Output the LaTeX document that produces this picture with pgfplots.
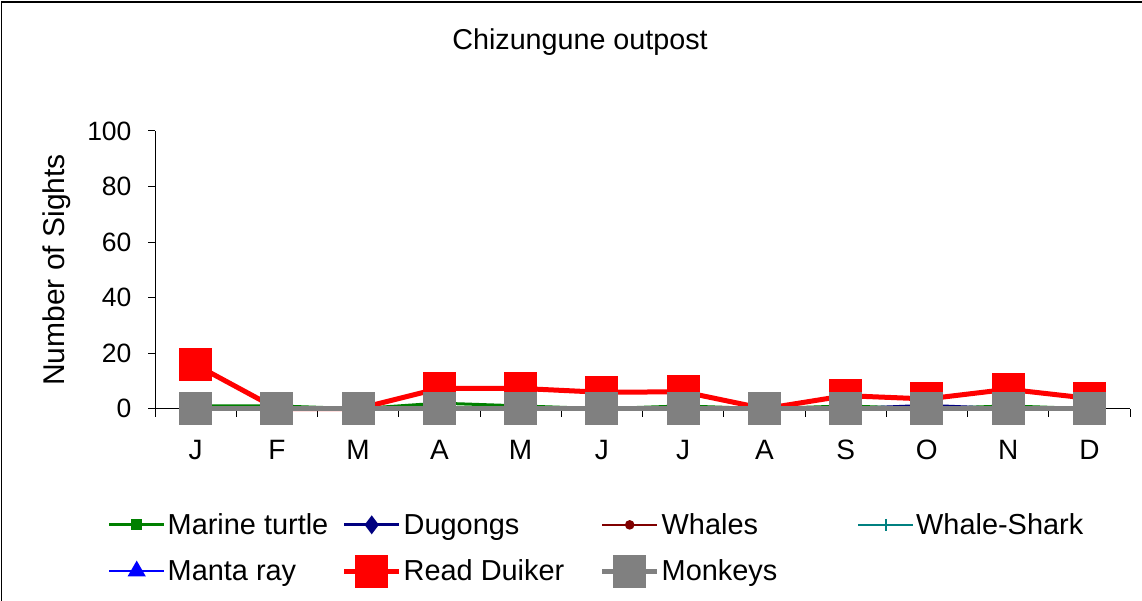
\documentclass[border=0pt]{standalone}
\usepackage{pgfplots}
\pgfplotsset{compat=1.18}
\usepackage{fontspec}
\setmainfont{Liberation Sans}
\definecolor{mturtle}{RGB}{0,128,0}
\definecolor{dugong}{RGB}{0,0,128}
\definecolor{whale}{RGB}{128,0,0}
\definecolor{wshark}{RGB}{0,128,128}
\definecolor{manta}{RGB}{0,0,255}
\definecolor{duiker}{RGB}{255,0,0}
\definecolor{monkey}{RGB}{128,128,128}
\begin{document}
\begin{tikzpicture}
\useasboundingbox (0,0) rectangle (1142pt,601pt);
\draw[line width=1.5pt] (1.5pt,0pt) -- (1.5pt,599pt) -- (1142pt,599pt);
\node[font=\fontsize{28.7}{32}\selectfont] at (580pt,559pt) {Chizungune outpost};
\begin{axis}[
  at={(155pt,192.3pt)}, anchor=south west,
  scale only axis, width=975pt, height=277.7pt,
  xmin=-0.5, xmax=11.5, ymin=0, ymax=100,
  clip=false,
  axis x line*=bottom, axis y line*=left,
  axis line style={-, line width=1pt},
  tick style={black, line width=1pt},
  tick align=outside,
  xtick={0,...,11},
  xticklabels={J,F,M,A,M,J,J,A,S,O,N,D},
  minor xtick={-0.5,0.5,...,11.5},
  major x tick style={draw=none},
  minor tick length=8pt,
  major tick length=7pt,
  ytick={0,20,...,100},
  xticklabel style={font=\fontsize{28}{32}\selectfont, yshift=-21pt},
  yticklabel style={font=\fontsize{26.5}{30}\selectfont, xshift=-13pt},
  /pgf/number format/assume math mode=true,
  ylabel={Number of Sights},
  ylabel style={font=\fontsize{30}{34}\selectfont, at={(axis description cs:-0.1005,0.5)}, anchor=center},
  legend columns=4,
  legend style={at={(axis description cs:-0.0487,-0.37)}, anchor=north west, draw=none, fill=none,
     font=\fontsize{28.9}{32}\selectfont, inner sep=0pt,
     nodes={inner sep=2pt}, row sep=19pt, column sep=0pt},
  legend cell align=left,
  legend image code/.code={\draw[mark repeat=2,mark phase=2] plot coordinates {(0pt,0pt) (27.5pt,0pt) (55pt,0pt)};},
]
\addplot[color=mturtle, line width=3pt, mark=square*, mark size=4pt, mark options={solid}]
 coordinates {(0,1) (1,1) (2,0) (3,2) (4,1) (5,0) (6,1) (7,0) (8,1) (9,0) (10,1) (11,0)};
\addlegendentry{\makebox[172pt][l]{Marine turtle}}
\addplot[color=dugong, line width=3pt, mark=diamond*, mark size=7pt]
 coordinates {(0,0) (1,0) (2,0) (3,0) (4,0) (5,0) (6,0) (7,0) (8,0) (9,1.2) (10,0) (11,0)};
\addlegendentry{\makebox[194pt][l]{Dugongs}}
\addplot[color=whale, line width=1.5pt, mark=*, mark size=4pt]
 coordinates {(0,0) (1,0) (2,0) (3,0) (4,0) (5,0) (6,0) (7,0) (8,0) (9,0) (10,0) (11,0)};
\addlegendentry{\makebox[194pt][l]{Whales}}
\addplot[color=wshark, line width=1.5pt, mark=+, mark size=6pt]
 coordinates {(0,0) (1,0) (2,0) (3,0) (4,0) (5,0) (6,0) (7,0) (8,0) (9,0) (10,0) (11,0)};
\addlegendentry{Whale-Shark}
\addplot[color=manta, line width=2.5pt, mark=triangle*, mark size=8pt]
 coordinates {(0,0) (1,0) (2,0) (3,0) (4,0) (5,0) (6,0) (7,0) (8,0) (9,0) (10,0) (11,0)};
\addlegendentry{\makebox[172pt][l]{Manta ray}}
\addplot[color=duiker, line width=5pt, mark=square*, mark size=14pt]
 coordinates {(0,15.8) (1,0) (2,0) (3,7.3) (4,7.3) (5,5.9) (6,6.1) (7,0) (8,4.7) (9,3.5) (10,7) (11,3.7)};
\addlegendentry{\makebox[194pt][l]{Read Duiker}}
\addplot[color=monkey, line width=5pt, mark=square*, mark size=14pt]
 coordinates {(0,0) (1,0) (2,0) (3,0) (4,0) (5,0) (6,0) (7,0) (8,0) (9,0) (10,0) (11,0)};
\addlegendentry{\makebox[194pt][l]{Monkeys}}
\end{axis}
\end{tikzpicture}
\end{document}
